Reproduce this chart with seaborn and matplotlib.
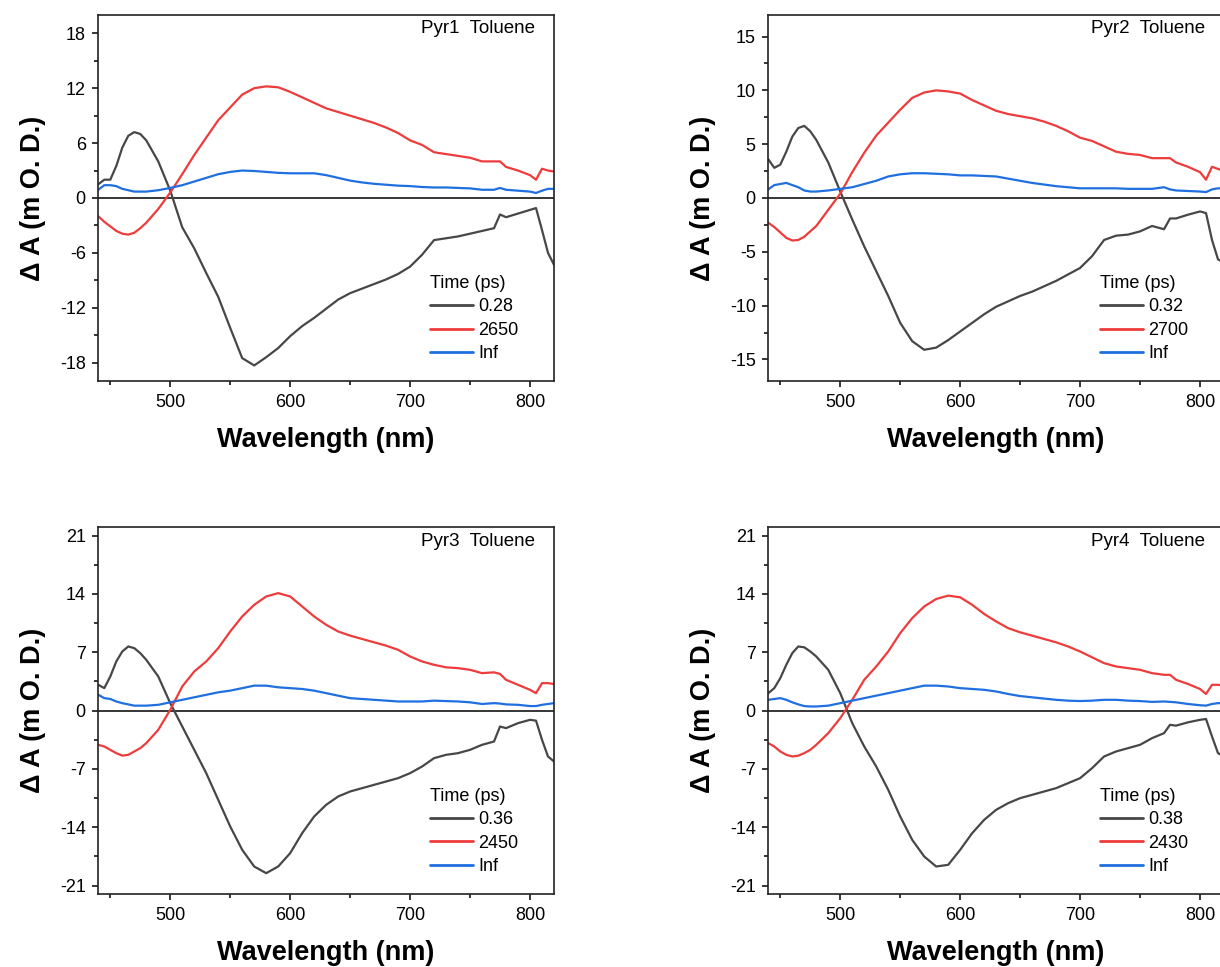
import matplotlib
matplotlib.use("Agg")
import matplotlib.pyplot as plt
from matplotlib.ticker import MultipleLocator
import seaborn as sns
import pandas as pd

# ---------------- data ----------------
wavelength = [440, 445, 450, 455, 460, 465, 470, 475, 480, 490, 500, 510, 520, 530, 540,
              550, 560, 570, 580, 590, 600, 610, 620, 630, 640, 650, 660, 670, 680, 690,
              700, 710, 720, 730, 740, 750, 760, 770, 775, 780, 790, 800, 805, 810, 815, 820]

pyr1_early = [1.5, 2.0, 2.0, 3.5, 5.5, 6.8, 7.2, 7.0,
              6.3, 4.0, 0.8, -3.2, -5.5, -8.2, -10.8, -14.2, -17.5, -18.3,
              -17.4, -16.4, -15.1, -14.0, -13.1, -12.1, -11.1, -10.4, -9.9, -9.4,
              -8.9, -8.3, -7.5, -6.2, -4.6, -4.4, -4.2, -3.9, -3.6, -3.3,
              -1.8, -2.1, -1.7, -1.3, -1.1, -3.5, -6.0, -7.3]
pyr1_late = [-2.0, -2.6, -3.1, -3.6, -3.9, -4.0, -3.8, -3.3,
             -2.7, -1.2, 0.6, 2.6, 4.7, 6.6, 8.5, 9.9, 11.3, 12.0,
             12.2, 12.1, 11.6, 11.0, 10.4, 9.8, 9.4, 9.0, 8.6, 8.2,
             7.7, 7.1, 6.3, 5.8, 5.0, 4.8, 4.6, 4.4, 4.0, 4.0,
             4.0, 3.4, 3.0, 2.5, 2.0, 3.2, 3.0, 2.9]
pyr1_inf = [0.9, 1.4, 1.4, 1.3, 1.0, 0.85, 0.7, 0.7,
            0.7, 0.85, 1.1, 1.4, 1.8, 2.2, 2.6, 2.85, 3.0, 2.95,
            2.85, 2.75, 2.7, 2.7, 2.7, 2.5, 2.2, 1.9, 1.7, 1.55,
            1.45, 1.35, 1.3, 1.2, 1.15, 1.15, 1.1, 1.05, 0.9, 0.9,
            1.1, 0.9, 0.8, 0.7, 0.55, 0.8, 1.0, 1.0]

pyr2_early = [3.6, 2.8, 3.1, 4.3, 5.7, 6.5, 6.7, 6.2,
              5.4, 3.3, 0.6, -2.0, -4.5, -6.8, -9.1, -11.6, -13.3, -14.1,
              -13.9, -13.2, -12.4, -11.6, -10.8, -10.1, -9.6, -9.1, -8.7, -8.2,
              -7.7, -7.1, -6.5, -5.4, -3.9, -3.5, -3.4, -3.1, -2.6, -2.9,
              -1.9, -1.9, -1.55, -1.25, -1.4, -3.9, -5.7, -6.0]
pyr2_late = [-2.3, -2.7, -3.2, -3.7, -3.95, -3.9, -3.6, -3.1,
             -2.6, -1.1, 0.4, 2.4, 4.2, 5.8, 7.0, 8.2, 9.3, 9.8,
             10.0, 9.9, 9.7, 9.1, 8.6, 8.1, 7.8, 7.6, 7.4, 7.1,
             6.7, 6.2, 5.6, 5.3, 4.8, 4.3, 4.1, 4.0, 3.7, 3.7,
             3.7, 3.3, 2.9, 2.4, 1.7, 2.9, 2.7, 2.5]
pyr2_inf = [0.8, 1.2, 1.3, 1.4, 1.2, 1.0, 0.7, 0.6,
            0.6, 0.7, 0.85, 1.0, 1.3, 1.6, 2.0, 2.2, 2.3, 2.3,
            2.25, 2.2, 2.1, 2.1, 2.05, 2.0, 1.8, 1.6, 1.4, 1.25,
            1.1, 1.0, 0.9, 0.9, 0.9, 0.9, 0.85, 0.85, 0.85, 1.0,
            0.8, 0.7, 0.65, 0.6, 0.55, 0.8, 0.9, 0.9]

pyr3_early = [3.1, 2.7, 4.1, 5.9, 7.1, 7.7, 7.5, 6.9,
              6.1, 4.1, 0.9, -1.9, -4.7, -7.5, -10.7, -13.9, -16.7, -18.7,
              -19.5, -18.7, -17.1, -14.7, -12.7, -11.3, -10.3, -9.7, -9.3, -8.9,
              -8.5, -8.1, -7.5, -6.7, -5.7, -5.3, -5.1, -4.7, -4.1, -3.7,
              -1.9, -2.1, -1.5, -1.1, -1.2, -3.5, -5.5, -6.1]
pyr3_late = [-4.1, -4.3, -4.7, -5.1, -5.4, -5.3, -4.9, -4.5,
             -3.9, -2.3, 0.1, 2.9, 4.7, 5.9, 7.5, 9.5, 11.3, 12.7,
             13.7, 14.1, 13.7, 12.5, 11.3, 10.3, 9.5, 9.0, 8.6, 8.2,
             7.8, 7.3, 6.5, 5.9, 5.5, 5.2, 5.1, 4.9, 4.5, 4.6,
             4.4, 3.7, 3.1, 2.5, 2.1, 3.3, 3.3, 3.2]
pyr3_inf = [1.9, 1.5, 1.4, 1.1, 0.9, 0.75, 0.6, 0.6,
            0.6, 0.7, 1.0, 1.3, 1.6, 1.9, 2.2, 2.4, 2.7, 3.0,
            3.0, 2.8, 2.7, 2.6, 2.4, 2.1, 1.8, 1.5, 1.4, 1.3,
            1.2, 1.1, 1.1, 1.1, 1.2, 1.15, 1.1, 1.0, 0.8, 0.9,
            0.85, 0.75, 0.7, 0.55, 0.55, 0.7, 0.8, 0.9]

pyr4_early = [2.1, 2.7, 3.9, 5.5, 6.9, 7.7, 7.6, 7.1,
              6.5, 4.9, 2.1, -1.5, -4.3, -6.7, -9.5, -12.7, -15.5, -17.5,
              -18.7, -18.5, -16.7, -14.7, -13.1, -11.9, -11.1, -10.5, -10.1, -9.7,
              -9.3, -8.7, -8.1, -6.9, -5.5, -4.9, -4.5, -4.1, -3.3, -2.7,
              -1.7, -1.8, -1.4, -1.1, -1.0, -3.1, -5.1, -5.5]
pyr4_late = [-3.9, -4.3, -4.9, -5.3, -5.5, -5.4, -5.1, -4.7,
             -4.1, -2.7, -0.9, 1.3, 3.7, 5.3, 7.1, 9.3, 11.1, 12.5,
             13.4, 13.8, 13.6, 12.7, 11.6, 10.7, 9.9, 9.4, 9.0, 8.6,
             8.2, 7.7, 7.1, 6.4, 5.7, 5.3, 5.1, 4.9, 4.5, 4.3,
             4.3, 3.7, 3.2, 2.6, 2.0, 3.1, 3.1, 3.0]
pyr4_inf = [1.3, 1.4, 1.5, 1.3, 1.0, 0.75, 0.55, 0.5,
            0.5, 0.6, 0.9, 1.2, 1.5, 1.8, 2.1, 2.4, 2.7, 3.0,
            3.0, 2.9, 2.7, 2.6, 2.5, 2.3, 2.0, 1.75, 1.6, 1.45,
            1.3, 1.2, 1.15, 1.2, 1.3, 1.3, 1.2, 1.15, 1.05, 1.1,
            1.05, 1.0, 0.8, 0.65, 0.6, 0.8, 0.9, 0.9]

panel_titles = ["Pyr1  Toluene", "Pyr2  Toluene", "Pyr3  Toluene", "Pyr4  Toluene"]
time_labels = [["0.28", "2650", "Inf"], ["0.32", "2700", "Inf"],
               ["0.36", "2450", "Inf"], ["0.38", "2430", "Inf"]]
panel_series = [[pyr1_early, pyr1_late, pyr1_inf],
                [pyr2_early, pyr2_late, pyr2_inf],
                [pyr3_early, pyr3_late, pyr3_inf],
                [pyr4_early, pyr4_late, pyr4_inf]]
y_limits = [(-20, 20), (-17, 17), (-22, 22), (-22, 22)]
y_major = [6, 5, 7, 7]
x_limits = (440, 820)

# ---------------- style ----------------
sns.set_theme(style="ticks")
plt.rcParams["font.family"] = ["Liberation Sans", "DejaVu Sans"]
plt.rcParams["axes.unicode_minus"] = False
plt.rcParams["text.color"] = "black"
plt.rcParams["axes.labelcolor"] = "black"
plt.rcParams["xtick.color"] = "black"
plt.rcParams["ytick.color"] = "black"
plt.rcParams["axes.linewidth"] = 1.2
plt.rcParams["axes.edgecolor"] = "#222222"

line_colors = ["#474747", "#ee3b3b", "#1f6fe0"]

W, H = 1220, 967
fig = plt.figure(figsize=(W / 100, H / 100), dpi=100)
boxes = [
    (98.3, 15, 455.7, 366),
    (768.3, 15, 455.7, 366),
    (98.3, 527.3, 455.7, 366.7),
    (768.3, 527.3, 455.7, 366.7),
]

for i, (x0, y0, w, h) in enumerate(boxes):
    ax = fig.add_axes([x0 / W, 1 - (y0 + h) / H, w / W, h / H])
    for vals, lab, col in zip(panel_series[i], time_labels[i], line_colors):
        df = pd.DataFrame({"wl": wavelength, "dA": vals})
        sns.lineplot(data=df, x="wl", y="dA", ax=ax, color=col, linewidth=1.6,
                     label=lab, legend=False)
    ax.axhline(0, color="black", linewidth=1.1, zorder=1)
    ax.set_xlim(*x_limits)
    ax.set_ylim(*y_limits[i])
    ax.xaxis.set_major_locator(MultipleLocator(100))
    ax.xaxis.set_minor_locator(MultipleLocator(50))
    ax.yaxis.set_major_locator(MultipleLocator(y_major[i]))
    ax.yaxis.set_minor_locator(MultipleLocator(y_major[i] / 2))
    ax.tick_params(axis="both", which="major", direction="out", length=4, width=1.1,
                   labelsize=13, pad=5, colors="black")
    ax.tick_params(axis="both", which="minor", direction="out", length=3, width=1.1,
                   colors="black")
    ax.tick_params(top=False, right=False, which="both")
    for s in ax.spines.values():
        s.set_visible(True)
        s.set_color("#222222")
    ax.set_xlabel("Wavelength (nm)", fontsize=19.5, fontweight="bold", labelpad=12,
                  color="black")
    ax.set_ylabel("Δ A (m O. D.)", fontsize=19.5, fontweight="bold", labelpad=10,
                  color="black")
    ax.text(0.958, 0.962, panel_titles[i], transform=ax.transAxes, ha="right",
            va="center", fontsize=13.5, color="black")
    leg = ax.legend(title="Time (ps)", loc="upper left",
                    bbox_to_anchor=(0.727, 0.29), frameon=False, fontsize=13,
                    title_fontsize=13, handlelength=2.4, handletextpad=0.3,
                    labelspacing=0.36, borderpad=0, borderaxespad=0,
                    alignment="left")
    for line in leg.get_lines():
        line.set_linewidth(2.0)
    for t in leg.get_texts():
        t.set_color("black")
    leg.get_title().set_color("black")

fig.savefig("out.png", dpi=100)
